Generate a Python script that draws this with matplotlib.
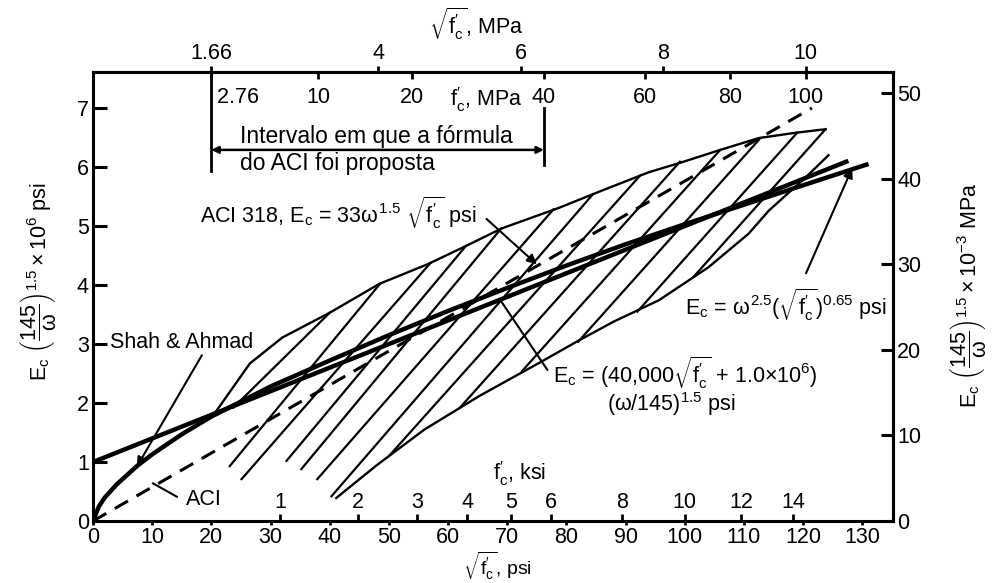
import numpy as np
import matplotlib
matplotlib.use('Agg')
import matplotlib.pyplot as plt
from matplotlib import font_manager as fm

# pick a condensed sans if there is one
try:
    fm.findfont('Liberation Sans Narrow', fallback_to_default=False)
    base = 'Liberation Sans Narrow'
    fs = 17
except ValueError:
    base = 'Liberation Sans'
    fs = 15.5

plt.rcParams['font.family'] = [base, 'DejaVu Sans']
plt.rcParams['mathtext.fontset'] = 'custom'
plt.rcParams['mathtext.rm'] = base
plt.rcParams['mathtext.it'] = base
plt.rcParams['mathtext.bf'] = base

# axis ticks
psi_ticks = [0, 10, 20, 30, 40, 50, 60, 70, 80, 90, 100, 110, 120, 130]
left_ticks = [0, 1, 2, 3, 4, 5, 6, 7]
right_ticks = [0, 10, 20, 30, 40, 50]
sqrt_mpa_ticks = [1.66, 4, 6, 8, 10]
mpa_ticks = [2.76, 10, 20, 40, 60, 80, 100]
ksi_ticks = [1, 2, 3, 4, 5, 6, 8, 10, 12, 14]

# curves (x = sqrt(f'c) psi, y = Ec (145/w)^1.5 x 1e6 psi)
aci_x = [0, 121.5]
aci_y = [0, 7.0]
lin_x = [0, 127.3]
lin_y = [1.0, 6.09]
shah_x = [0, 1, 2, 4, 7.4, 10, 15, 20, 30, 40, 50, 60, 70, 80, 90, 100, 110, 120, 130.7]
shah_y = [0, 0.25, 0.40, 0.62, 0.93, 1.13, 1.47, 1.77, 2.28, 2.72, 3.15, 3.56,
          3.95, 4.33, 4.69, 5.03, 5.36, 5.69, 6.04]

# scatter band
band_top_x = [20.6, 26.5, 32, 40, 48.4, 56.5, 63, 69.1, 78.8, 86, 93.9, 99.5, 105.7, 112.5, 118.7, 123.8]
band_top_y = [1.83, 2.67, 3.11, 3.53, 4.02, 4.35, 4.66, 4.96, 5.31, 5.6, 5.91, 6.08, 6.28, 6.49, 6.58, 6.64]
band_bot_x = [41.1, 48, 56, 65.3, 75.4, 82.1, 88, 95.6, 104, 110.8, 114.2, 120.4, 124.3]
band_bot_y = [0.39, 0.95, 1.55, 2.12, 2.68, 3.06, 3.38, 3.74, 4.3, 4.87, 5.26, 5.82, 6.2]

hatch_x0 = [23.7, 23.1, 25.1, 32.7, 35.2, 37.9, 40.3, 50.0, 62.0, 72.5, 82.0, 92.0, 101.5]
hatch_y0 = [1.92, 0.93, 0.71, 1.02, 0.88, 0.71, 0.42, 1.10, 1.92, 2.54, 3.04, 3.55, 4.14]
hatch_x1 = [40.0, 48.5, 57.0, 63.0, 69.0, 77.8, 84.5, 92.5, 99.2, 106.0, 112.8, 119.0, 123.8]
hatch_y1 = [3.53, 4.02, 4.37, 4.66, 4.96, 5.28, 5.54, 5.86, 6.09, 6.29, 6.49, 6.58, 6.64]

fig = plt.figure(figsize=(9.96, 5.83), dpi=100)
ax = fig.add_axes([0.0934, 0.1063, 0.8032, 0.7702])
ax.set_xlim(0, 135.2)
ax.set_ylim(0, 7.61)
for s in ax.spines.values():
    s.set_linewidth(2.2)

# band + hatch
ax.plot(band_top_x, band_top_y, color='k', lw=1.7)
ax.plot(band_bot_x, band_bot_y, color='k', lw=1.7)
for x0, y0, x1, y1 in zip(hatch_x0, hatch_y0, hatch_x1, hatch_y1):
    ax.plot([x0, x1], [y0, y1], color='k', lw=1.6)

ax.plot(aci_x, aci_y, color='k', lw=2.2, dashes=(5, 3.2))
ax.plot(lin_x, lin_y, color='k', lw=3.2)
ax.plot(shah_x, shah_y, color='k', lw=3.2)

# ticks
ax.set_xticks(psi_ticks)
ax.set_yticks(left_ticks)
ax.tick_params(axis='x', direction='out', length=3, width=2, pad=1, labelsize=fs)
ax.tick_params(axis='y', direction='in', length=10, width=2.2, pad=3, labelsize=fs)

top = ax.secondary_xaxis('top', functions=(lambda x: x / 12.043, lambda v: v * 12.043))
top.set_xticks(sqrt_mpa_ticks, [f'{v:g}' for v in sqrt_mpa_ticks])
top.tick_params(direction='out', length=4, width=2, pad=2, labelsize=fs)
top.spines['top'].set_linewidth(2.2)

mpa = ax.secondary_xaxis('top', functions=(lambda x: np.sign(x) * x ** 2 / 145.04,
                                          lambda f: np.sqrt(np.abs(f) * 145.04)))
mpa.set_xticks(mpa_ticks, [' 2.76'] + [f'{v:g}' for v in mpa_ticks[1:]])
mpa.tick_params(direction='in', length=5, width=2, pad=-26, labelsize=fs)
mpa.spines['top'].set_visible(False)
for lab in mpa.get_xticklabels():
    if lab.get_text() == ' 2.76':
        lab.set_horizontalalignment('left')

ksi = ax.secondary_xaxis('bottom', functions=(lambda x: np.sign(x) * x ** 2 / 1000,
                                             lambda k: np.sqrt(np.abs(k) * 1000)))
ksi.set_xticks(ksi_ticks, [str(k) for k in ksi_ticks])
ksi.tick_params(direction='in', length=5, width=2, pad=-21, labelsize=fs)
ksi.spines['bottom'].set_visible(False)

rax = ax.secondary_yaxis('right', functions=(lambda y: y * 6.895, lambda m: m / 6.895))
rax.set_yticks(right_ticks)
rax.tick_params(direction='in', length=9, width=2.2, pad=3, labelsize=fs)
rax.spines['right'].set_linewidth(2.2)

# axis titles
sq = r'$\sqrt{\mathrm{f}^{\prime}_{\mathrm{c}}}$'
fp = r'$\mathrm{f}^{\prime}_{\mathrm{c}}$'
fig.text(476 / 996, 1 - 24 / 583, sq + ', MPa', ha='center', va='center', fontsize=fs)
fig.text(497 / 996, 1 - 582 / 583, sq + ', psi', ha='center', va='bottom', fontsize=fs - 1.5)
ax.text(60.4, 7.14, fp + ', MPa', ha='left', va='center', fontsize=fs)
ax.text(72.0, 0.8, fp + ', ksi', ha='center', va='center', fontsize=fs)
fig.text(38 / 996, 1 - 282 / 583,
         r'$\mathrm{E_c}\ \left(\dfrac{145}{\omega}\right)^{1.5}\times10^6$ psi',
         rotation=90, ha='center', va='center', fontsize=fs)
fig.text(968 / 996, 1 - 295 / 583,
         r'$\mathrm{E_c}\ \left(\dfrac{145}{\omega}\right)^{1.5}\times10^{-3}$ MPa',
         rotation=90, ha='center', va='center', fontsize=fs)

# interval of the ACI formula
ax.plot([20, 20], [7.61, 5.94], color='k', lw=2)
ax.plot([76.2, 76.2], [7.0, 6.03], color='k', lw=2)
ax.annotate('', xy=(20, 6.29), xytext=(76.2, 6.29),
            arrowprops=dict(arrowstyle='<|-|>', color='k', lw=1.8, mutation_scale=10,
                            shrinkA=0, shrinkB=0))
ax.text(24.9, 6.51, 'Intervalo em que a fórmula', fontsize=16.5, family='Liberation Sans',
        ha='left', va='center')
ax.text(24.9, 6.06, 'do ACI foi proposta', fontsize=16.5, family='Liberation Sans',
        ha='left', va='center')

# labels and leaders
arrow = dict(arrowstyle='-|>', color='k', lw=1.5, mutation_scale=14, shrinkA=0, shrinkB=0)
plain = dict(arrowstyle='-', color='k', lw=1.5, shrinkA=0, shrinkB=0)

ax.text(18.1, 5.22, r'ACI 318, $\mathrm{E_c}$ = 33$\omega^{1.5}$ ' + sq + ' psi',
        fontsize=fs, ha='left', va='center')
ax.annotate('', xy=(75.0, 4.35), xytext=(66.5, 5.12), arrowprops=arrow)

ax.text(2.9, 3.03, 'Shah & Ahmad', fontsize=fs, ha='left', va='center')
ax.annotate('', xy=(7.4, 0.92), xytext=(18.4, 2.81), arrowprops=arrow)

ax.text(15.7, 0.36, 'ACI', fontsize=fs, ha='left', va='center')
ax.annotate('', xy=(10.1, 0.64), xytext=(14.2, 0.41), arrowprops=plain)

ax.text(77.8, 2.51, r'$\mathrm{E_c}$ = (40,000' + sq + r' + 1.0$\times$10$^6$)',
        fontsize=fs, ha='left', va='center')
ax.text(86.9, 1.98, r'($\omega$/145)$^{1.5}$ psi', fontsize=fs, ha='left', va='center')
ax.annotate('', xy=(68.8, 3.75), xytext=(76.8, 2.56), arrowprops=plain)

ax.text(100.1, 3.66, r'$\mathrm{E_c}$ = $\omega^{2.5}$(' + sq + r')$^{0.65}$ psi',
        fontsize=fs, ha='left', va='center')
ax.annotate('', xy=(128.3, 5.98), xytext=(120.5, 4.2), arrowprops=arrow)

fig.savefig('out.png', dpi=100)
